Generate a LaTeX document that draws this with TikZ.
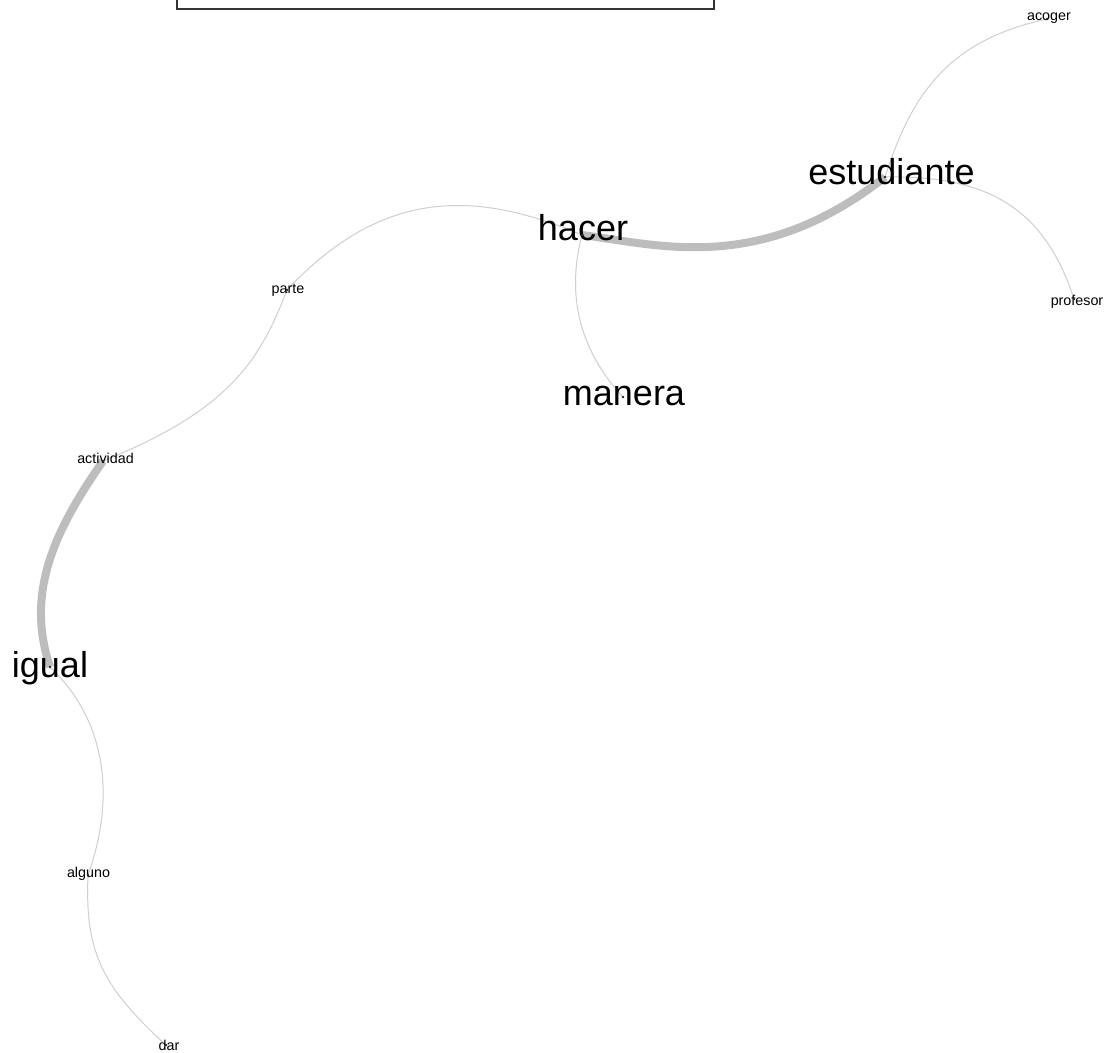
\documentclass[tikz,border=0pt]{standalone}
\usepackage{fontspec}
\setmainfont{Liberation Sans}
\definecolor{thickedge}{HTML}{BDBDBD}
\definecolor{thinedge}{HTML}{CFCFCF}
\definecolor{boxline}{HTML}{333333}
\begin{document}
\begin{tikzpicture}[x=1pt,y=-1pt,
  bigword/.style={anchor=base,inner sep=0pt,font=\fontsize{36}{36}\selectfont,text=black},
  smallword/.style={anchor=base,inner sep=0pt,font=\fontsize{14.3}{14.3}\selectfont,text=black},
  strongedge/.style={draw=thickedge,line width=8pt},
  weakedge/.style={draw=thinedge,line width=1pt},
  centerdot/.style={fill=black!85,draw=none}]
\useasboundingbox (0,0) rectangle (1112,1053);
\fill[white] (0,0) rectangle (1112,1053);
% legend box (cut at top)
\node[draw=boxline,line width=1.6pt,minimum width=537pt,minimum height=30pt,inner sep=0pt,anchor=south west] (legend) at (176,10) {};
% node centres
\coordinate (acoger) at (1047,19);
\coordinate (estudiante) at (885,177);
\coordinate (hacer) at (582,235);
\coordinate (manera) at (623,397);
\coordinate (parte) at (287,290);
\coordinate (actividad) at (103,461);
\coordinate (igual) at (50,667);
\coordinate (alguno) at (88,875);
\coordinate (dar) at (166,1045);
\coordinate (profesor) at (1074,299);
% edges
\draw[strongedge] (hacer) .. controls (660,245) and (760,275) .. (estudiante);
\draw[strongedge] (actividad) .. controls (55,530) and (25,592) .. (igual);
\draw[weakedge] (estudiante) .. controls (912,92) and (950,40) .. (acoger);
\draw[weakedge] (estudiante) .. controls (990,175) and (1045,210) .. (profesor);
\draw[weakedge] (hacer) .. controls (570,280) and (570,340) .. (manera);
\draw[weakedge] (hacer) .. controls (480,192) and (385,185) .. (parte);
\draw[weakedge] (parte) .. controls (260,360) and (230,410) .. (actividad);
\draw[weakedge] (igual) .. controls (108,722) and (115,800) .. (alguno);
\draw[weakedge] (alguno) .. controls (85,950) and (100,985) .. (dar);
% labels
\node[smallword] (t-acoger) at (1049,20) {acoger};
\node[bigword] (t-estudiante) at (891.5,184) {estudiante};
\node[bigword] (t-hacer) at (583,240) {hacer};
\node[bigword] (t-manera) at (624,405) {manera};
\node[smallword] (t-parte) at (288,293) {parte};
\node[smallword] (t-actividad) at (105.5,463) {actividad};
\node[bigword] (t-igual) at (50,677) {igual};
\node[smallword] (t-alguno) at (88.5,877) {alguno};
\node[smallword] (t-dar) at (169,1050) {dar};
\node[smallword] (t-profesor) at (1077,305) {profesor};
% centre dots
\foreach \n in {acoger,estudiante,hacer,manera,parte,actividad,igual,alguno,dar,profesor}
  \fill[centerdot] (\n) circle (1.3pt);
\end{tikzpicture}
\end{document}
